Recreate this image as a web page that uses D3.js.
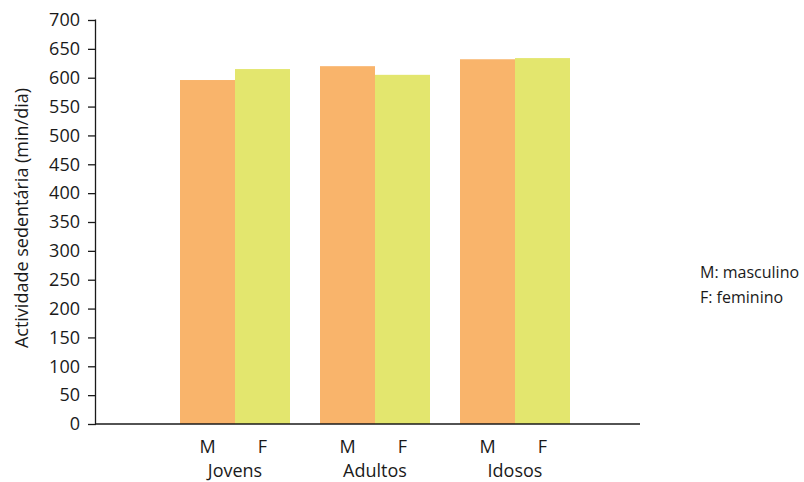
<!DOCTYPE html>
<html>
<head>
<meta charset="utf-8">
<script src="https://cdn.jsdelivr.net/npm/d3@7"></script>
<style>
  body { margin: 0; background: #fff; }
  svg text { font-family: "Open Sans", "Noto Sans", sans-serif; fill: #1a1a1a; }
</style>
</head>
<body>
<svg id="chart" width="804" height="482"></svg>
<script>
// Sedentary activity (min/day) by age group and sex
const groups = ["Jovens", "Adultos", "Idosos"];
const sexes = ["M", "F"];
const masculino = [596, 620, 632];
const feminino = [615, 605, 634];
const yTicks = [0, 50, 100, 150, 200, 250, 300, 350, 400, 450, 500, 550, 600, 650, 700];
const legendLines = ["M: masculino", "F: feminino"];
const colors = { M: "#f9b46b", F: "#e3e66e" };

const svg = d3.select("#chart");
const axisX0 = 96, axisX1 = 640, plotTop = 20, plotBottom = 424;
const labelSize = 18;

const y = d3.scaleLinear().domain([0, 700]).range([plotBottom, plotTop]);

const x0 = d3.scaleBand().domain(groups).range([165, 585])
  .paddingInner(30 / 140).paddingOuter(15 / 140);
const x1 = d3.scaleBand().domain(sexes).range([0, x0.bandwidth()]).padding(0);

const data = groups.map((g, i) => ({ group: g, values: [
  { sex: "M", value: masculino[i] },
  { sex: "F", value: feminino[i] }
]}));

// bars
const barLayer = svg.append("g");
barLayer.selectAll("g.grp").data(data).join("g")
  .attr("class", "grp")
  .attr("transform", d => `translate(${x0(d.group)},0)`)
  .selectAll("rect").data(d => d.values).join("rect")
  .attr("x", d => x1(d.sex))
  .attr("width", x1.bandwidth())
  .attr("y", d => y(d.value))
  .attr("height", d => y(0) - y(d.value))
  .attr("fill", d => colors[d.sex]);

// y axis
const yAxis = svg.append("g")
  .attr("transform", `translate(${axisX0},0)`)
  .call(d3.axisLeft(y).tickValues(yTicks).tickSize(8).tickPadding(8).tickFormat(d3.format("d")));
yAxis.selectAll("path, line").attr("stroke", "#1a1a1a").attr("stroke-width", 1.3);
yAxis.select(".domain").attr("d", `M-0.5,${plotBottom}V${plotTop - 0.5}`);
yAxis.selectAll("text").attr("font-size", labelSize).attr("font-family", "\"Open Sans\", sans-serif").attr("fill", "#1a1a1a");

// x axis baseline
svg.append("line")
  .attr("x1", axisX0 - 1).attr("x2", axisX1)
  .attr("y1", plotBottom).attr("y2", plotBottom)
  .attr("stroke", "#1a1a1a").attr("stroke-width", 1.3);

// sex labels under each bar, group names below
data.forEach(d => {
  d.values.forEach(v => {
    svg.append("text")
      .attr("x", x0(d.group) + x1(v.sex) + x1.bandwidth() / 2)
      .attr("y", 453)
      .attr("text-anchor", "middle")
      .attr("font-size", labelSize)
      .text(v.sex);
  });
  svg.append("text")
    .attr("x", x0(d.group) + x0.bandwidth() / 2)
    .attr("y", 477)
    .attr("text-anchor", "middle")
    .attr("font-size", labelSize)
    .text(d.group);
});

// y axis title
svg.append("text")
  .attr("transform", `translate(28,218) rotate(-90)`)
  .attr("text-anchor", "middle")
  .attr("font-size", labelSize)
  .text("Actividade sedentária (min/dia)");

// legend text
svg.selectAll("text.legend").data(legendLines).join("text")
  .attr("class", "legend")
  .attr("x", 700)
  .attr("y", (d, i) => 278 + i * 25)
  .attr("font-size", 16)
  .text(d => d);
</script>
</body>
</html>
